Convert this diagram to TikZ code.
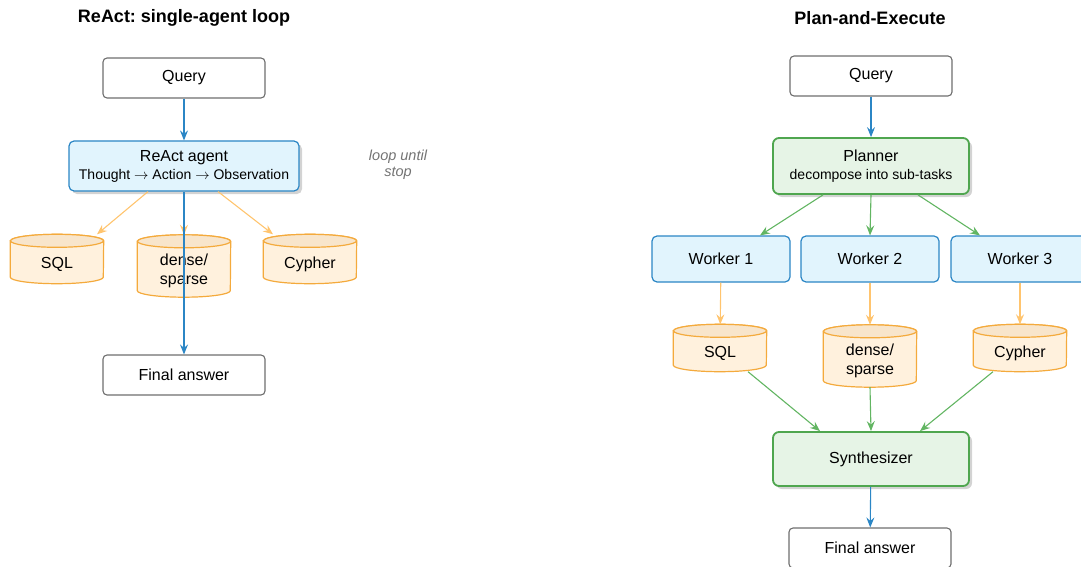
\documentclass[tikz,border=0pt]{standalone}
\usepackage{fontspec}
\setmainfont{Liberation Sans}
\usepackage{amsmath}
\usetikzlibrary{calc, positioning, shadows, arrows.meta}
\frenchspacing

\definecolor{blueline}{HTML}{2B86C5}
\definecolor{bluefill}{HTML}{E1F4FD}
\definecolor{greenline}{HTML}{4FA64F}
\definecolor{greenfill}{HTML}{E6F4E6}
\definecolor{greenarrow}{HTML}{62B562}
\definecolor{orangeline}{HTML}{F4AA3C}
\definecolor{orangefill}{HTML}{FFF1DD}
\definecolor{orangetop}{HTML}{F8E5CB}
\definecolor{orangearrow}{HTML}{FFC46E}
\definecolor{grayline}{HTML}{6E6E6E}

\newcommand{\storerx}{46.5pt}
\newcommand{\storery}{6.5pt}
% cylinder drawn round an invisible node
\newcommand{\drawstore}[1]{%
  \filldraw[store line] ([yshift=-\storery]#1.north west) -- ([yshift=\storery]#1.south west)
    arc[start angle=180, end angle=360, x radius=\storerx, y radius=\storery]
    -- ([yshift=-\storery]#1.north east)
    arc[start angle=0, end angle=180, x radius=\storerx, y radius=\storery] -- cycle;
  \filldraw[store line, fill=orangetop] ([yshift=-\storery]#1.north)
    ellipse[x radius=\storerx, y radius=\storery];
}

\begin{document}
\begin{tikzpicture}[x=1pt,y=-1pt,
    title/.style={font=\fontsize{18}{20}\selectfont\bfseries},
    term node/.style={rectangle,rounded corners=4pt,draw=grayline,line width=1.1pt,fill=white,
      minimum width=162pt,minimum height=40pt,font=\fontsize{16}{18}\selectfont},
    agent node/.style={rectangle,rounded corners=5pt,draw=blueline,line width=1.2pt,fill=bluefill,
      align=center,font=\fontsize{16}{20}\selectfont},
    plan node/.style={rectangle,rounded corners=6pt,draw=greenline,line width=1.8pt,fill=greenfill,
      align=center,font=\fontsize{16}{20}\selectfont,
      drop shadow={shadow xshift=3pt,shadow yshift=-3pt,opacity=.35,fill=black!50}},
    store/.style={rectangle,minimum width=93pt,inner sep=0pt},
    store text/.style={align=center,font=\fontsize{16}{19}\selectfont,yshift=-5pt},
    store line/.style={draw=orangeline,fill=orangefill,line width=1.2pt},
    blue arrow/.style={draw=blueline,line width=1.1pt,-{Stealth[length=10pt,width=8pt,inset=3.5pt]}},
    orange arrow/.style={draw=orangearrow,line width=1.1pt,-{Stealth[length=10pt,width=8pt,inset=3.5pt]}},
    green arrow/.style={draw=greenarrow,line width=1.1pt,-{Stealth[length=10pt,width=8pt,inset=3.5pt]}}]

  \useasboundingbox (0,0) rectangle (1081,567);

  % ReAct side
  \node[title] (t1) at (184,18) {ReAct: single-agent loop};
  \node[term node] (q1) at (184,78) {Query};
  \node[agent node,minimum width=230pt,minimum height=50pt,
        drop shadow={shadow xshift=3pt,shadow yshift=-3pt,opacity=.35,fill=black!50}]
    (react) at (184,166) {ReAct agent\\[-2pt]{\fontsize{14}{16}\selectfont Thought $\rightarrow$ Action $\rightarrow$ Observation}};
  \node[font=\fontsize{14.5}{16}\selectfont\itshape,text=black!55,align=center] (loop) at (398,165)
    {loop until\\stop};

  \node[store,minimum height=49pt] (sql1) at (57,259) {};
  \node[store,minimum height=62pt] (vec1) at (184,266) {};
  \node[store,minimum height=49pt] (cyp1) at (310,259) {};
  \drawstore{sql1}
  \drawstore{vec1}
  \drawstore{cyp1}
  \node[store text] at (sql1) {SQL};
  \node[store text] at (vec1) {dense/\\sparse};
  \node[store text] at (cyp1) {Cypher};

  \node[term node] (ans1) at (184,375) {Final answer};

  \draw[orange arrow] ([xshift=-36pt]react.south) -- ([xshift=40pt]sql1.north);
  \draw[orange arrow] (react.south) -- (vec1.north);
  \draw[orange arrow] ([xshift=34pt]react.south) -- ([xshift=-37pt]cyp1.north);
  \draw[blue arrow] (q1) -- (react);
  \draw[blue arrow] (react) -- (ans1);

  % Plan-and-Execute side
  \node[title] (t2) at (870,18) {Plan-and-Execute};
  \node[term node] (q2) at (871,76) {Query};
  \node[plan node,minimum width=196pt,minimum height=56pt] (plan) at (871,166)
    {Planner\\[-2pt]{\fontsize{14}{16}\selectfont decompose into sub-tasks}};

  \node[agent node,minimum width=138pt,minimum height=46pt] (w1) at (721,259) {Worker 1};
  \node[agent node,minimum width=138pt,minimum height=46pt] (w2) at (870,259) {Worker 2};
  \node[agent node,minimum width=138pt,minimum height=46pt] (w3) at (1020,259) {Worker 3};

  \node[store,minimum height=47pt] (sql2) at (720,348) {};
  \node[store,minimum height=62pt] (vec2) at (870,356) {};
  \node[store,minimum height=47pt] (cyp2) at (1020,348) {};
  \drawstore{sql2}
  \drawstore{vec2}
  \drawstore{cyp2}
  \node[store text] at (sql2) {SQL};
  \node[store text] at (vec2) {dense/\\sparse};
  \node[store text] at (cyp2) {Cypher};

  \node[plan node,minimum width=196pt,minimum height=54pt] (synth) at (871,459) {Synthesizer};
  \node[term node] (ans2) at (870,548) {Final answer};

  \draw[blue arrow] (q2) -- (plan);
  \draw[blue arrow] (synth) -- (ans2);
  \draw[green arrow] ([xshift=-48pt]plan.south) -- ([xshift=39pt]w1.north);
  \draw[green arrow] (plan.south) -- (w2.north);
  \draw[green arrow] ([xshift=47pt]plan.south) -- ([xshift=-40pt]w3.north);
  \draw[orange arrow] (w1) -- (sql2);
  \draw[orange arrow] (w2) -- (vec2);
  \draw[orange arrow] (w3) -- (cyp2);
  \draw[green arrow] ([xshift=28pt]sql2.south) -- ([xshift=-51pt]synth.north);
  \draw[green arrow] (vec2.south) -- (synth.north);
  \draw[green arrow] ([xshift=-27pt]cyp2.south) -- ([xshift=49pt]synth.north);
\end{tikzpicture}
\end{document}
